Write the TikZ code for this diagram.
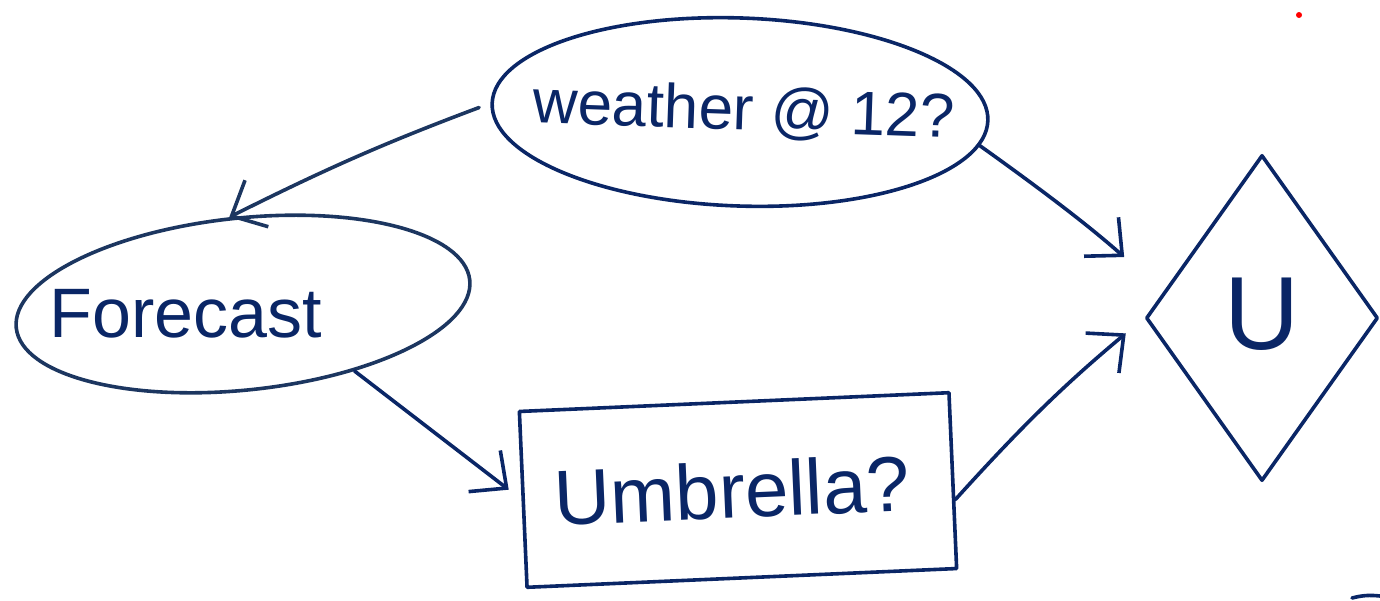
\documentclass[tikz,border=0pt]{standalone}
\usepackage{fontspec}
\setmainfont{Liberation Sans}
\usetikzlibrary{shapes.geometric,arrows.meta}
\definecolor{ink}{RGB}{10,38,102}
\definecolor{inkb}{RGB}{28,54,96}
\begin{document}
\begin{tikzpicture}[x=0.5pt,y=-0.5pt,
  stroke/.style={line width=1.8pt, line cap=round, line join=round},
  ell/.style={ellipse, draw=#1, stroke, inner sep=0pt, text=ink},
  boxnode/.style={rectangle, draw=ink, stroke, inner sep=0pt, text=ink},
  utilnode/.style={diamond, draw=ink, stroke, inner sep=0pt, text=ink},
  lbl/.style={text=ink, inner sep=0pt},
  arr/.style={draw=#1, stroke, -{Straight Barb[length=14pt,width=26pt,line width=1.8pt]}},
]
\useasboundingbox (0,0) rectangle (1380,600);

\node[ell=ink, minimum width=248pt, minimum height=94pt, rotate=-2,
      font=\fontsize{31}{36}\selectfont] (weather) at (740,112)
      {\makebox[0pt]{\kern4pt weather @ 12?}};
\node[ell=inkb, minimum width=228pt, minimum height=86pt, rotate=6] (forecast) at (243,304) {};
\node[lbl, font=\fontsize{35}{40}\selectfont] (forecasttext) at (186,314) {Forecast};
\node[boxnode, minimum width=215pt, minimum height=88pt, rotate=2.5,
      font=\fontsize{39}{44}\selectfont] (umbrella) at (738,490)
      {\makebox[0pt]{\raisebox{-2pt}{\kern-6pt Umbrella?}}};
\node[utilnode, minimum width=116pt, minimum height=163pt,
      font=\fontsize{52}{56}\selectfont] (u) at (1262,318)
      {\makebox[0pt]{\raisebox{4pt}{U}}};

\draw[arr=inkb, shorten <=6pt] (weather.180) to[bend right=3] (forecast.93);
\draw[arr=ink, shorten >=26pt] (weather.-6) to[bend left=3] (u.165);
\draw[arr=ink, shorten >=8pt] (forecast.-37) -- (umbrella.west);
\draw[arr=ink, shorten >=12pt] (umbrella.-5) to[bend left=4] (u.west);

\fill[red] (1299,15) circle (1.5pt);
\draw[ink, stroke] (1352,598) to[bend left=10] (1380,596);
\end{tikzpicture}
\end{document}
